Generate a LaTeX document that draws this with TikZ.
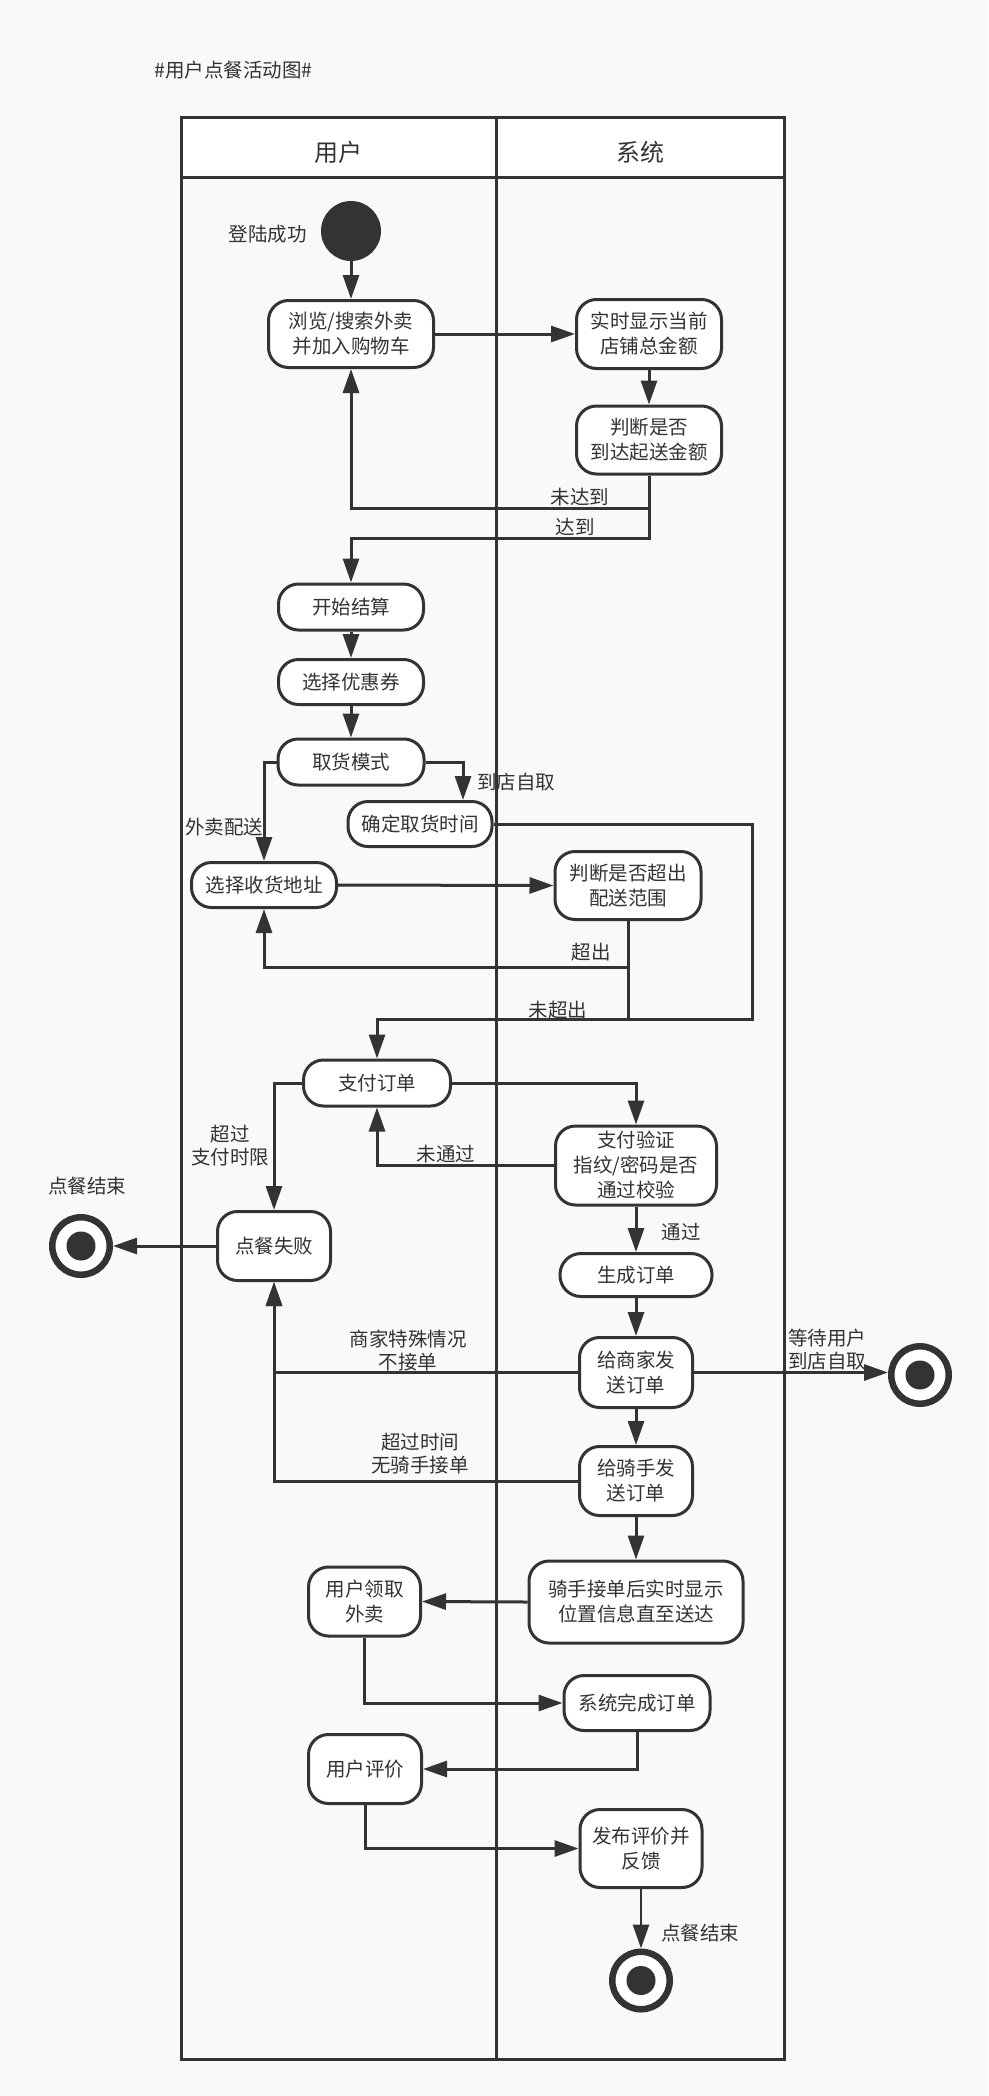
\documentclass[tikz,border=0pt]{standalone}
\usepackage{fontspec}
\setmainfont{Noto Sans CJK SC}
\usetikzlibrary{arrows.meta,calc}
\definecolor{ink}{HTML}{333333}
\definecolor{bg}{HTML}{F9F9F9}
\begin{document}
\begin{tikzpicture}[x=1pt,y=-1pt,
  act/.style 2 args={draw=ink, line width=3pt, fill=white, rounded corners=20pt,
    align=center, text=ink, font=\fontsize{19.5}{25}\selectfont, inner sep=0pt,
    minimum width=#1pt, minimum height=#2pt},
  lbl/.style={text=ink, font=\fontsize{19.5}{23}\selectfont, align=center, inner sep=0pt},
  lane/.style={draw=ink, line width=3pt},
  conn/.style={draw=ink, line width=3pt},
  arr/.style={draw=ink, line width=3pt, -{Triangle[length=24pt,width=16pt]}},
  endring/.style={circle, draw=ink, line width=6.5pt, fill=white, minimum size=57.5pt, inner sep=0pt},
  startdot/.style={circle, fill=ink, minimum size=60pt, inner sep=0pt}]
\useasboundingbox (0,0) rectangle (988,2096);
\fill[bg] (0,0) rectangle (988,2096);

% title
\node[lbl, anchor=west] (title) at (154,70) {\#用户点餐活动图\#};

% swimlanes
\fill[white] (181.5,117) rectangle (784,177.5);
\draw[lane] (181.5,117) rectangle (784,2059.5);
\draw[lane] (181.5,177.5) -- (784,177.5);
\draw[lane] (496,117) -- (496,2059.5);
\node[lbl, font=\fontsize{24}{28}\selectfont] (laneU) at (338,152) {用户};
\node[lbl, font=\fontsize{24}{28}\selectfont] (laneS) at (640,152) {系统};

% start / end
\node[startdot] (start) at (351,231) {};
\node[endring] (end1) at (81,1246) {};
\fill[ink] (end1) circle[radius=14.5pt];
\node[endring] (end2) at (920,1375) {};
\fill[ink] (end2) circle[radius=14.5pt];
\node[endring] (end3) at (641,1980.5) {};
\fill[ink] (end3) circle[radius=14.5pt];

% activities
\node[act={165}{67}] (browse) at (351,334) {浏览/搜索外卖\\并加入购物车};
\node[act={145}{69}] (realtime) at (649,334) {实时显示当前\\店铺总金额};
\node[act={145}{68}] (judge1) at (649,440) {判断是否\\到达起送金额};
\node[act={145}{46}] (checkout) at (351,607) {开始结算};
\node[act={145}{45}] (coupon) at (351,682) {选择优惠券};
\node[act={146}{46}] (mode) at (351,762) {取货模式};
\node[act={144}{45}] (pickup) at (420,824) {确定取货时间};
\node[act={145}{45}] (address) at (264,885) {选择收货地址};
\node[act={146}{68}] (judge2) at (628,885.5) {判断是否超出\\配送范围};
\node[act={147}{46}] (pay) at (377,1083) {支付订单};
\node[act={161}{79}] (verify) at (636,1165.5) {支付验证\\指纹/密码是否\\通过校验};
\node[act={113}{69}] (fail) at (274,1246) {点餐失败};
\node[act={152}{43}, rounded corners=21pt] (gen) at (636,1275) {生成订单};
\node[act={113}{70}] (merchant) at (636,1372.5) {给商家发\\送订单};
\node[act={113}{69}] (rider) at (636,1481) {给骑手发\\送订单};
\node[act={214}{82}] (track) at (636,1602) {骑手接单后实时显示\\位置信息直至送达};
\node[act={112}{69}] (receive) at (364.5,1601.5) {用户领取\\外卖};
\node[act={146}{55}] (complete) at (637,1703) {系统完成订单};
\node[act={113}{69}] (review) at (365,1769) {用户评价};
\node[act={122}{78}] (publish) at (641,1848.5) {发布评价并\\反馈};

% connectors
\draw[arr] (start) -- (browse);
\draw[arr] (browse.east) -- (realtime.west);
\draw[arr] (realtime) -- (judge1);
\draw[arr] (judge1.south) -- ++(0,33) -| (browse.south);
\draw[arr] (judge1.south) -- ++(0,63) -| (checkout.north);
\draw[arr] (checkout) -- (coupon);
\draw[arr] (coupon) -- (mode);
\draw[arr] (mode.west) -| (address.north);
\draw[arr] (mode.east) -| ([xshift=43pt]pickup.north);
\draw[arr] (address.east) -- (judge2.west);
\draw[arr] (judge2.south) -- ++(0,46) -| (address.south);
\draw[arr] (judge2.south) -- ++(0,98) -| (pay.north);
\coordinate (join1) at (752,1019);
\draw[conn] (pickup.east) -| (join1) -- (join1 -| judge2.south);
\draw[arr] (pay.east) -| (verify.north);
\draw[arr] (verify.west) -| (pay.south);
\draw[arr] (pay.west) -| (fail.north);
\draw[arr] (fail.west) -- (end1.east);
\draw[arr] (verify) -- (gen);
\draw[arr] (gen) -- (merchant);
\draw[arr] (merchant.west) -| (fail.south);
\draw[arr] (merchant.east) -- (merchant.east -| end2.west);
\draw[arr] (merchant) -- (rider);
\draw[arr] (rider.west) -| (fail.south);
\draw[arr] (rider) -- (track);
\draw[arr] (track.west) -- (receive.east);
\draw[arr] (receive.south) |- (complete.west);
\draw[arr] (complete.south) |- (review.east);
\draw[arr] (review.south) |- (publish.west);
\draw[arr, line width=2.5pt] (publish) -- (end3);

% labels
\node[lbl] (lStart) at (267.5,234) {登陆成功};
\node[lbl] (l1) at (580,497.5) {未达到};
\node[lbl] (l2) at (575,527) {达到};
\node[lbl] (l3) at (224,827) {外卖配送};
\node[lbl] (l4) at (516,782) {到店自取};
\node[lbl] (l5) at (591,952) {超出};
\node[lbl] (l6) at (558,1010) {未超出};
\node[lbl] (l7) at (446,1154) {未通过};
\node[lbl] (l8) at (230,1146) {超过\\支付时限};
\node[lbl] (l9) at (681,1232) {通过};
\node[lbl] (l10) at (408,1351) {商家特殊情况\\不接单};
\node[lbl] (l11) at (827,1350) {等待用户\\到店自取};
\node[lbl] (l12) at (420,1454) {超过时间\\无骑手接单};
\node[lbl] (l13) at (87,1186) {点餐结束};
\node[lbl] (l14) at (700,1933.5) {点餐结束};
\end{tikzpicture}
\end{document}
